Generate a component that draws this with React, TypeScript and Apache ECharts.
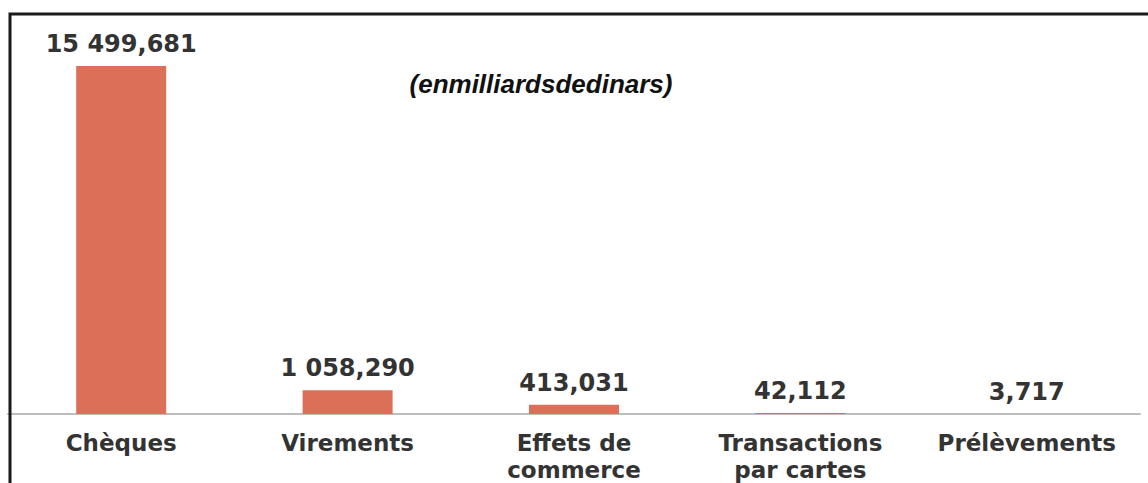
import React, { useEffect, useRef } from "react";
import * as echarts from "echarts";

const categories = [
  "Chèques",
  "Virements",
  "Effets de\ncommerce",
  "Transactions\npar cartes",
  "Prélèvements",
];
const values = [15499.681, 1058.29, 413.031, 42.112, 3.717];
const subtitle = "(enmilliardsdedinars)";

function formatFr(v: number): string {
  const [intPart, dec] = v.toFixed(3).split(".");
  const grouped = intPart.replace(/\B(?=(\d{3})+(?!\d))/g, " ");
  return grouped + "," + dec;
}

export default function App() {
  const ref = useRef<HTMLDivElement>(null);
  useEffect(() => {
    if (!ref.current) return;
    const chart = echarts.init(ref.current, null, { renderer: "svg" });
    chart.setOption({
      animation: false,
      backgroundColor: "#ffffff",
      grid: { left: 8, right: 8, top: 60, bottom: 69, containLabel: false },
      xAxis: {
        type: "category",
        data: categories,
        axisLine: { show: true, lineStyle: { color: "#bdbdbd", width: 2 } },
        axisTick: { show: false },
        axisLabel: {
          interval: 0,
          margin: 15,
          color: "#333333",
          fontFamily: "DejaVu Sans",
          fontWeight: "bold",
          fontSize: 23,
          lineHeight: 27,
        },
      },
      yAxis: {
        type: "value",
        min: 0,
        max: 15767,
        show: false,
        splitLine: { show: false },
      },
      series: [
        {
          type: "bar",
          data: values,
          barWidth: 90,
          itemStyle: { color: "#db6f57" },
          label: {
            show: true,
            position: "top",
            distance: 10,
            color: "#333333",
            fontFamily: "DejaVu Sans",
            fontWeight: "bold",
            fontSize: 24,
            formatter: (p: any) => formatFr(p.value),
          },
        },
      ],
      graphic: [
        {
          type: "rect",
          shape: { x: 10, y: 14, width: 1300, height: 700 },
          style: { fill: "none", stroke: "#1a1a1a", lineWidth: 3 },
          z: 10,
        },
        {
          type: "text",
          x: 541,
          y: 84,
          style: {
            text: subtitle,
            font: "italic bold 26px 'Liberation Sans', Arial, sans-serif",
            fill: "#111111",
            textAlign: "center",
            textVerticalAlign: "middle",
          },
        },
      ],
    });
    return () => chart.dispose();
  }, []);
  return (
    <div
      ref={ref}
      style={{ position: "absolute", left: 0, top: 0, width: 1148, height: 483, background: "#fff" }}
    />
  );
}
